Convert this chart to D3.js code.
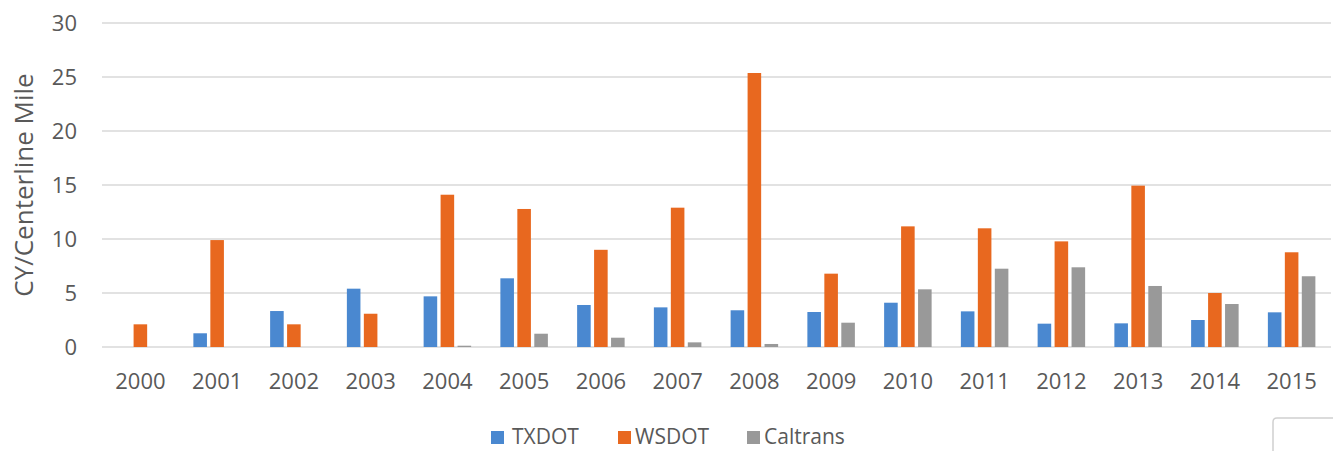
<!DOCTYPE html>
<html><head><meta charset="utf-8">
<script src="https://cdn.jsdelivr.net/npm/d3@7"></script>
<style>body{margin:0;background:#fff}svg{display:block}text{font-family:"Open Sans",sans-serif;fill:#595959}</style>
</head><body>
<script>
const years = ["2000","2001","2002","2003","2004","2005","2006","2007","2008","2009","2010","2011","2012","2013","2014","2015"];
const txdot = [0,1.27,3.33,5.4,4.69,6.36,3.89,3.67,3.4,3.24,4.1,3.3,2.16,2.19,2.5,3.21];
const wsdot = [2.1,9.9,2.1,3.08,14.1,12.78,9.0,12.9,25.37,6.79,11.17,10.99,9.78,14.94,5.0,8.77];
const caltrans = [0,0,0,0,0.12,1.23,0.86,0.43,0.28,2.25,5.34,7.25,7.38,5.65,3.98,6.55];
const yTicks = [0,5,10,15,20,25,30];
const seriesNames = ["TXDOT","WSDOT","Caltrans"];
const colors = ["#4a88d0","#e8681f","#999999"];
const seriesData = [txdot, wsdot, caltrans];

const W=1333,H=451;
const svg=d3.select("body").append("svg").attr("width",W).attr("height",H);
const x0=d3.scaleBand().domain(years).range([102,1330]).paddingInner(0).paddingOuter(0);
const inner=47.5;
const x1=d3.scaleBand().domain(seriesNames).range([0,inner]).paddingInner(0.2);
const y=d3.scaleLinear().domain([0,30]).range([347,23]);

// gridlines
svg.append("g").selectAll("line").data(yTicks).join("line")
  .attr("x1",102).attr("x2",1331).attr("y1",d=>y(d)).attr("y2",d=>y(d))
  .attr("stroke","#d9d9d9").attr("stroke-width",1.5);

// y tick labels
const yAxis=d3.axisLeft(y).tickValues(yTicks).tickSize(0).tickPadding(0);
const gy=svg.append("g").attr("transform","translate(77,0)").call(yAxis);
gy.select(".domain").remove();
gy.selectAll("text").style("font-size","22px").attr("fill","#595959").attr("font-family","Open Sans");

// x tick labels
const xAxis=d3.axisBottom(x0).tickSize(0).tickPadding(0);
const gx=svg.append("g").attr("transform","translate(0,373)").call(xAxis);
gx.select(".domain").remove();
gx.selectAll("text").style("font-size","22px").attr("fill","#595959").attr("font-family","Open Sans");

// bars
seriesNames.forEach((s,i)=>{
  svg.append("g").selectAll("rect").data(seriesData[i]).join("rect")
    .attr("x",(d,j)=>x0(years[j])+(x0.bandwidth()-inner)/2+x1(s))
    .attr("width",x1.bandwidth())
    .attr("y",d=>y(d)).attr("height",d=>y(0)-y(d))
    .attr("fill",colors[i]);
});

// y title
svg.append("text").attr("transform","translate(33,185) rotate(-90)")
  .attr("text-anchor","middle").style("font-size","26px").text("CY/Centerline Mile");

// legend
const legSq=[491,618,747];
const legTx=[512,635,764];
const leg=svg.append("g");
seriesNames.forEach((s,i)=>{
  leg.append("rect").attr("x",legSq[i]).attr("y",431).attr("width",13).attr("height",13).attr("fill",colors[i]);
  leg.append("text").attr("x",legTx[i]).attr("y",444).style("font-size","21px").text(s);
});

// corner box
svg.append("path").attr("d","M1273,451 L1273,422 Q1273,418 1277,418 L1333,418")
  .attr("fill","#fff").attr("stroke","#d0d0d0").attr("stroke-width",1.5);
</script>
</body></html>
